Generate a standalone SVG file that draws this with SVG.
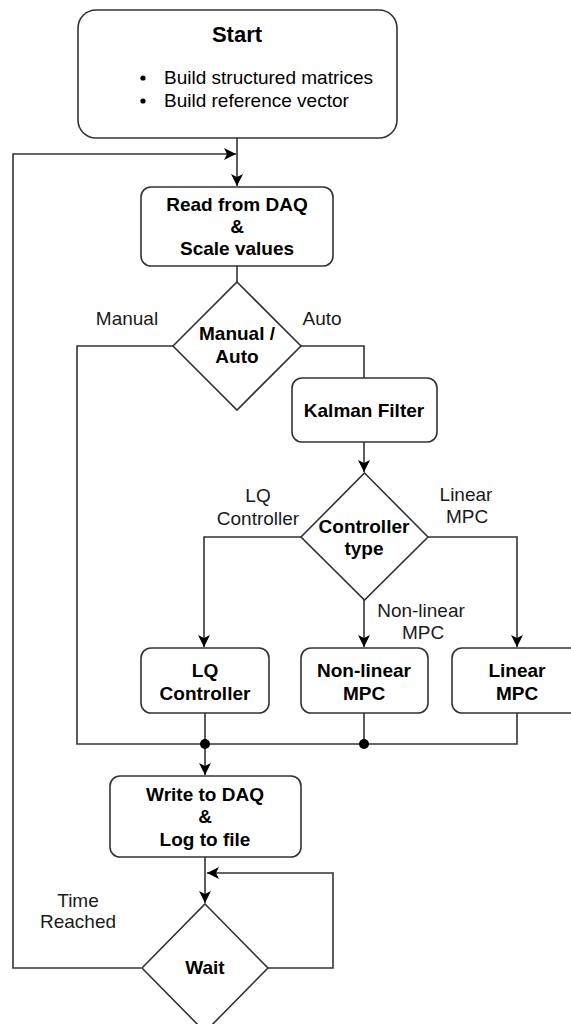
<svg xmlns="http://www.w3.org/2000/svg" width="571" height="1024" viewBox="0 0 571 1024">
  <style>
    .box { fill: #ffffff; stroke: #333333; stroke-width: 1.6; }
    .edge { fill: none; stroke: #333333; stroke-width: 1.6; }
    .t { font-family: "Liberation Sans", Arial, sans-serif; font-size: 19px; fill: #000000; text-anchor: middle; }
    .b { font-weight: bold; }
    .lbl { font-family: "Liberation Sans", Arial, sans-serif; font-size: 19px; fill: #1a1a1a; text-anchor: middle; }
  </style>
  <defs>
    <marker id="arrow" markerUnits="userSpaceOnUse" markerWidth="14" markerHeight="14" refX="12" refY="6" orient="auto">
      <path d="M0,0 L12,6 L0,12 L3,6 Z" fill="#000000"/>
    </marker>
  </defs>

  <rect width="571" height="1024" fill="#ffffff"/>

  <!-- connectors -->
  <g id="connectors">
    <path class="edge" d="M237,138 V186" marker-end="url(#arrow)"/>
    <path class="edge" d="M141,968 H13 V154 H236" marker-end="url(#arrow)"/>
    <path class="edge" d="M237,266 V282"/>
    <path class="edge" d="M173,346 H77 V744 H517 V713"/>
    <path class="edge" d="M301,346 H364 V378"/>
    <path class="edge" d="M364,442 V472" marker-end="url(#arrow)"/>
    <path class="edge" d="M301,537 H204 V647" marker-end="url(#arrow)"/>
    <path class="edge" d="M364,600 V647" marker-end="url(#arrow)"/>
    <path class="edge" d="M428,537 H517 V647" marker-end="url(#arrow)"/>
    <path class="edge" d="M205,713 V744"/>
    <path class="edge" d="M364,713 V744"/>
    <path class="edge" d="M205,744 V775" marker-end="url(#arrow)"/>
    <path class="edge" d="M205,857 V903" marker-end="url(#arrow)"/>
    <path class="edge" d="M268,968 H333 V873 H207" marker-end="url(#arrow)"/>
    <circle cx="205" cy="744" r="5" fill="#000000"/>
    <circle cx="364" cy="744" r="5" fill="#000000"/>
    <!-- branch labels -->
    <text class="lbl" x="127" y="325">Manual</text>
    <text class="lbl" x="322" y="325">Auto</text>
    <text class="lbl" x="258" y="502">LQ</text>
    <text class="lbl" x="258" y="525">Controller</text>
    <text class="lbl" x="466" y="501">Linear</text>
    <text class="lbl" x="467" y="523">MPC</text>
    <text class="lbl" x="421" y="617">Non-linear</text>
    <text class="lbl" x="423" y="639">MPC</text>
    <text class="lbl" x="78" y="907">Time</text>
    <text class="lbl" x="78" y="928">Reached</text>
  </g>

  <g id="start">
    <rect class="box" x="78" y="10" width="319" height="128" rx="18"/>
    <text class="t b" x="237" y="42" style="font-size:22px">Start</text>
    <circle cx="143" cy="78" r="2.6" fill="#000000"/>
    <circle cx="143" cy="101" r="2.6" fill="#000000"/>
    <text class="t" x="164" y="84" style="text-anchor:start">Build structured matrices</text>
    <text class="t" x="164" y="107" style="text-anchor:start">Build reference vector</text>
  </g>

  <g id="read">
    <rect class="box" x="141" y="187" width="192" height="79" rx="10"/>
    <text class="t b" x="237" y="211">Read from DAQ</text>
    <text class="t b" x="237" y="233">&amp;</text>
    <text class="t b" x="237" y="255">Scale values</text>
  </g>

  <g id="mode">
    <polygon class="box" points="237,282 301,346 237,410 173,346"/>
    <text class="t b" x="237" y="340">Manual /</text>
    <text class="t b" x="237" y="363">Auto</text>
  </g>

  <g id="kalman">
    <rect class="box" x="292" y="378" width="145" height="64" rx="10"/>
    <text class="t b" x="364" y="417">Kalman Filter</text>
  </g>

  <g id="controller-type">
    <polygon class="box" points="364.5,473 428,537 364.5,600 301,537"/>
    <text class="t b" x="364" y="533">Controller</text>
    <text class="t b" x="364" y="555">type</text>
  </g>

  <g id="lq">
    <rect class="box" x="141" y="648" width="128" height="65" rx="10"/>
    <text class="t b" x="205" y="677">LQ</text>
    <text class="t b" x="205" y="700">Controller</text>
  </g>

  <g id="nmpc">
    <rect class="box" x="301" y="648" width="127" height="65" rx="10"/>
    <text class="t b" x="364" y="677">Non-linear</text>
    <text class="t b" x="364" y="700">MPC</text>
  </g>

  <g id="lmpc">
    <rect class="box" x="452" y="648" width="129" height="65" rx="10"/>
    <text class="t b" x="517" y="677">Linear</text>
    <text class="t b" x="517" y="700">MPC</text>
  </g>

  <g id="write">
    <rect class="box" x="110" y="776" width="191" height="81" rx="10"/>
    <text class="t b" x="205" y="801">Write to DAQ</text>
    <text class="t b" x="205" y="823">&amp;</text>
    <text class="t b" x="205" y="846">Log to file</text>
  </g>

  <g id="wait">
    <polygon class="box" points="205,904 268,968 205,1032 142,968"/>
    <text class="t b" x="205" y="974">Wait</text>
  </g>
</svg>
